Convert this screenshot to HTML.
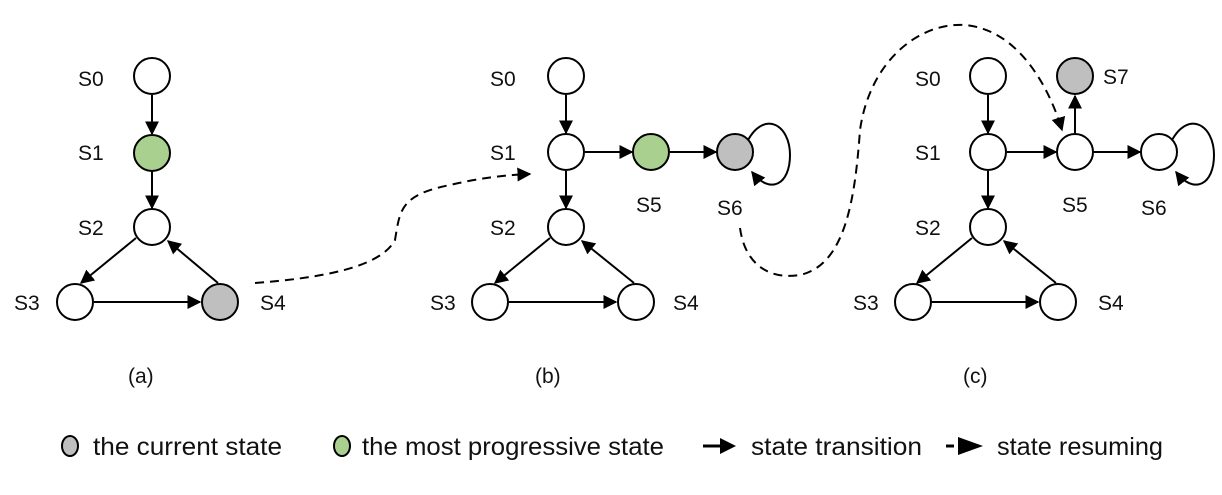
<!DOCTYPE html>
<html><head><meta charset="utf-8"><style>
html,body{margin:0;padding:0;background:#fff}
svg{display:block}
text{font-family:"Liberation Sans",sans-serif;fill:#111}
</style></head><body>
<svg width="1222" height="495" viewBox="0 0 1222 495" xmlns="http://www.w3.org/2000/svg">
<defs>
<marker id="a" viewBox="0 0 10 10" refX="9" refY="5" markerWidth="7" markerHeight="7" orient="auto-start-reverse" markerUnits="strokeWidth"><path d="M0,0 L10,5 L0,10 z" fill="#000"/></marker>
</defs>
<g stroke="#000" stroke-width="2" fill="none" marker-end="url(#a)">
<line x1="152" y1="95" x2="152" y2="134"/>
<line x1="152" y1="172" x2="152" y2="208"/>
<line x1="136" y1="238" x2="81" y2="283"/>
<line x1="94" y1="302" x2="200" y2="302"/>
<line x1="218" y1="283" x2="168" y2="241"/>
<line x1="566" y1="95" x2="566" y2="133"/>
<line x1="566" y1="171" x2="566" y2="208"/>
<line x1="550" y1="238" x2="495" y2="283"/>
<line x1="509" y1="302" x2="616" y2="302"/>
<line x1="634" y1="283" x2="582" y2="241"/>
<line x1="585" y1="152" x2="632" y2="152"/>
<line x1="670" y1="152" x2="716" y2="152"/>
<path d="M748,140 C765,110 790,125 790,155 C790,185 770,195 752,172"/>
<line x1="988" y1="95" x2="988" y2="133"/>
<line x1="988" y1="171" x2="988" y2="208"/>
<line x1="972" y1="238" x2="917" y2="283"/>
<line x1="931" y1="302" x2="1038" y2="302"/>
<line x1="1056" y1="283" x2="1004" y2="241"/>
<line x1="1007" y1="152" x2="1056" y2="152"/>
<line x1="1094" y1="152" x2="1140" y2="152"/>
<line x1="1075" y1="133" x2="1075" y2="96"/>
<path d="M1172,140 C1189,110 1214,125 1214,155 C1214,185 1194,195 1176,172"/>
</g>
<g stroke="#000" stroke-width="2" fill="none" stroke-dasharray="9,6" marker-end="url(#a)">
<path d="M255,283 C320,278 380,268 395,240 C400,210 400,195 450,185 C480,178 505,175 530,174"/>
<path d="M740,228 C745,265 770,280 800,275 C845,265 855,200 860,130 C870,60 920,22 965,25 C1020,30 1050,90 1062,130"/>
</g>
<g stroke="#000" stroke-width="2">
<circle cx="152" cy="76" r="18" fill="#fff"/>
<circle cx="152" cy="153" r="18" fill="#a9d08e"/>
<circle cx="152" cy="227" r="18" fill="#fff"/>
<circle cx="75" cy="302" r="18" fill="#fff"/>
<circle cx="220" cy="302" r="18" fill="#bfbfbf"/>
<circle cx="566" cy="76" r="18" fill="#fff"/>
<circle cx="566" cy="152" r="18" fill="#fff"/>
<circle cx="566" cy="227" r="18" fill="#fff"/>
<circle cx="490" cy="302" r="18" fill="#fff"/>
<circle cx="636" cy="302" r="18" fill="#fff"/>
<circle cx="651" cy="152" r="18" fill="#a9d08e"/>
<circle cx="735" cy="152" r="18" fill="#bfbfbf"/>
<circle cx="988" cy="76" r="18" fill="#fff"/>
<circle cx="988" cy="152" r="18" fill="#fff"/>
<circle cx="988" cy="227" r="18" fill="#fff"/>
<circle cx="913" cy="302" r="18" fill="#fff"/>
<circle cx="1058" cy="302" r="18" fill="#fff"/>
<circle cx="1075" cy="152" r="18" fill="#fff"/>
<circle cx="1075" cy="76" r="18" fill="#bfbfbf"/>
<circle cx="1159" cy="152" r="18" fill="#fff"/>
</g>
<g font-size="21">
<text x="78" y="86">S0</text><text x="78" y="160">S1</text><text x="78" y="235">S2</text><text x="14" y="310">S3</text><text x="260" y="310">S4</text>
<text x="490" y="86">S0</text><text x="490" y="160">S1</text><text x="490" y="235">S2</text><text x="430" y="310">S3</text><text x="673" y="310">S4</text>
<text x="636" y="212">S5</text><text x="717" y="215">S6</text>
<text x="915" y="86">S0</text><text x="915" y="160">S1</text><text x="915" y="235">S2</text><text x="853" y="310">S3</text><text x="1098" y="310">S4</text>
<text x="1062" y="212">S5</text><text x="1141" y="215">S6</text><text x="1103" y="84">S7</text>
<text x="128" y="383">(a)</text><text x="535" y="383">(b)</text><text x="963" y="383">(c)</text>
</g>
<g font-size="25">
<ellipse cx="70" cy="446" rx="8" ry="10" fill="#bfbfbf" stroke="#000" stroke-width="2"/>
<text x="93" y="455" textLength="189" lengthAdjust="spacingAndGlyphs">the current state</text>
<ellipse cx="342" cy="446" rx="8" ry="10" fill="#a9d08e" stroke="#000" stroke-width="2"/>
<text x="362" y="455" textLength="302" lengthAdjust="spacingAndGlyphs">the most progressive  state</text>
<line x1="703" y1="446" x2="722" y2="446" stroke="#000" stroke-width="3"/>
<polygon points="720,438 736,446 720,454" fill="#000"/>
<text x="751" y="455" textLength="171" lengthAdjust="spacingAndGlyphs">state transition</text>
<line x1="946" y1="446" x2="954" y2="446" stroke="#000" stroke-width="3"/>
<polygon points="958,437 983,446 958,455" fill="#000"/>
<text x="997" y="455" textLength="166" lengthAdjust="spacingAndGlyphs">state resuming</text>
</g>
</svg>
</body></html>
